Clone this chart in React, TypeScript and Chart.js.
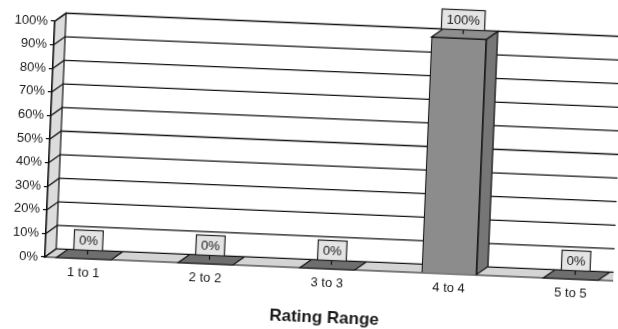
import React, { useEffect, useRef } from 'react';
import { Chart, registerables } from 'chart.js';

Chart.register(...registerables);

const categories = ['1 to 1', '2 to 2', '3 to 3', '4 to 4', '5 to 5'];
const values = [0, 0, 0, 100, 0];
const categoryPositions = [0, 1, 2, 3, 4];
const axisTitle = 'Rating Range';

const DX = 11;
const DY = 8.5;
const FONT = '"Liberation Sans", Arial, sans-serif';
const LINE = '#111';

function poly(ctx: CanvasRenderingContext2D, pts: number[][], fill: string, stroke = LINE) {
  ctx.beginPath();
  ctx.moveTo(pts[0][0], pts[0][1]);
  for (let i = 1; i < pts.length; i++) ctx.lineTo(pts[i][0], pts[i][1]);
  ctx.closePath();
  ctx.fillStyle = fill;
  ctx.fill();
  ctx.lineWidth = 1.2;
  ctx.strokeStyle = stroke;
  ctx.stroke();
}

const threeD = {
  id: 'threeD',
  beforeDatasetsDraw(chart: any) {
    const ctx = chart.ctx as CanvasRenderingContext2D;
    const { left, right, top, bottom } = chart.chartArea;
    const ys = chart.scales.y;
    ctx.save();
    poly(ctx, [[left, bottom], [left, top], [left + DX, top - DY], [left + DX, bottom - DY]], '#dcdcdc');
    ctx.strokeStyle = LINE;
    ctx.lineWidth = 1.3;
    ys.ticks.forEach((t: any) => {
      const py = ys.getPixelForValue(t.value);
      ctx.beginPath();
      ctx.moveTo(left, py);
      ctx.lineTo(left + DX, py - DY);
      ctx.lineTo(right + 30, py - DY);
      ctx.stroke();
    });
    poly(ctx, [[left, bottom], [right + 30, bottom], [right + 30, bottom - DY], [left + DX, bottom - DY]], '#d4d4d4');
    ctx.restore();
  },
  afterDatasetsDraw(chart: any) {
    const ctx = chart.ctx as CanvasRenderingContext2D;
    const meta = chart.getDatasetMeta(0);
    ctx.save();
    meta.data.forEach((bar: any, i: number) => {
      const { x, y, base, width } = bar.getProps(['x', 'y', 'base', 'width'], true);
      const x0 = x - width / 2;
      const x1 = x + width / 2;
      if (base - y > 0.5) {
        poly(ctx, [[x1, y], [x1 + DX, y - DY], [x1 + DX, base - DY], [x1, base]], '#767676');
        poly(ctx, [[x0, y], [x1, y], [x1 + DX, y - DY], [x0 + DX, y - DY]], '#8e8e8e');
      } else {
        poly(ctx, [[x0, y], [x1, y], [x1 + DX, y - DY], [x0 + DX, y - DY]], '#6e6e6e');
      }
      const text = values[i] + '%';
      ctx.font = '13px ' + FONT;
      const tw = ctx.measureText(text).width;
      const bw = tw + 10;
      const bh = 20;
      const cy = y - 19;
      const cx = x + DX / 2 - 2;
      const bx = Math.round(cx - bw / 2) + 0.5;
      const by = Math.round(cy - bh / 2) + 0.5;
      ctx.beginPath();
      ctx.moveTo(Math.round(cx) + 0.5, by + bh);
      ctx.lineTo(Math.round(cx) + 0.5, y - DY / 2);
      ctx.lineWidth = 1.2;
      ctx.strokeStyle = LINE;
      ctx.stroke();
      ctx.fillStyle = '#e4e4e4';
      ctx.fillRect(bx, by, bw, bh);
      ctx.strokeStyle = '#222';
      ctx.strokeRect(bx, by, bw, bh);
      ctx.fillStyle = '#1a1a1a';
      ctx.textAlign = 'center';
      ctx.textBaseline = 'middle';
      ctx.fillText(text, bx + bw / 2, by + bh / 2 + 0.5);
    });
    ctx.restore();
  },
};

export default function App() {
  const ref = useRef<HTMLCanvasElement | null>(null);
  useEffect(() => {
    if (!ref.current) return;
    const chart = new Chart(ref.current, {
      type: 'bar',
      data: {
        datasets: [
          {
            data: categoryPositions.map((p, i) => ({ x: p, y: values[i] })),
            backgroundColor: '#8c8c8c',
            borderColor: LINE,
            borderWidth: 1.2,
            barThickness: 55,
          },
        ],
      },
      options: {
        responsive: false,
        animation: false,
        layout: { padding: { left: 0, top: 32, right: 6, bottom: 0 } },
        plugins: { legend: { display: false }, tooltip: { enabled: false } },
        scales: {
          x: {
            type: 'linear',
            offset: false,
            min: -0.32,
            max: 4.3,
            grid: { display: false, drawTicks: false },
            border: { display: false },
            afterBuildTicks: (s: any) => {
              s.ticks = categoryPositions.map((v) => ({ value: v }));
            },
            afterFit: (s: any) => {
              s.height = 61;
            },
            ticks: {
              padding: 7,
              color: '#1a1a1a',
              font: { family: FONT, size: 13 },
              callback: (v: any) => categories[Math.round(Number(v))] ?? '',
            },
            title: {
              display: true,
              text: axisTitle,
              color: '#1a1a1a',
              font: { family: FONT, size: 17, weight: 'bold' },
              padding: { top: 0, bottom: 1 },
            },
          },
          y: {
            min: 0,
            max: 100,
            grid: { drawOnChartArea: false, drawTicks: true, tickLength: 4, color: LINE, lineWidth: 1.2 },
            border: { display: true, color: LINE, width: 1.2 },
            afterFit: (s: any) => {
              s.width = 49;
            },
            ticks: {
              stepSize: 10,
              padding: 3,
              color: '#1a1a1a',
              font: { family: FONT, size: 13 },
              callback: (v: any) => v + '%',
            },
          },
        },
      },
      plugins: [threeD],
    });
    return () => chart.destroy();
  }, []);
  return (
    <div style={{ position: 'fixed', left: 0, top: 0, width: 618, height: 329, overflow: 'hidden', background: '#fff' }}>
      <div style={{ width: 618, height: 329, transform: 'rotate(2.4deg)', transformOrigin: '309px 164.5px' }}>
        <canvas ref={ref} width={618} height={329} style={{ display: 'block', width: 618, height: 329 }} />
      </div>
    </div>
  );
}
